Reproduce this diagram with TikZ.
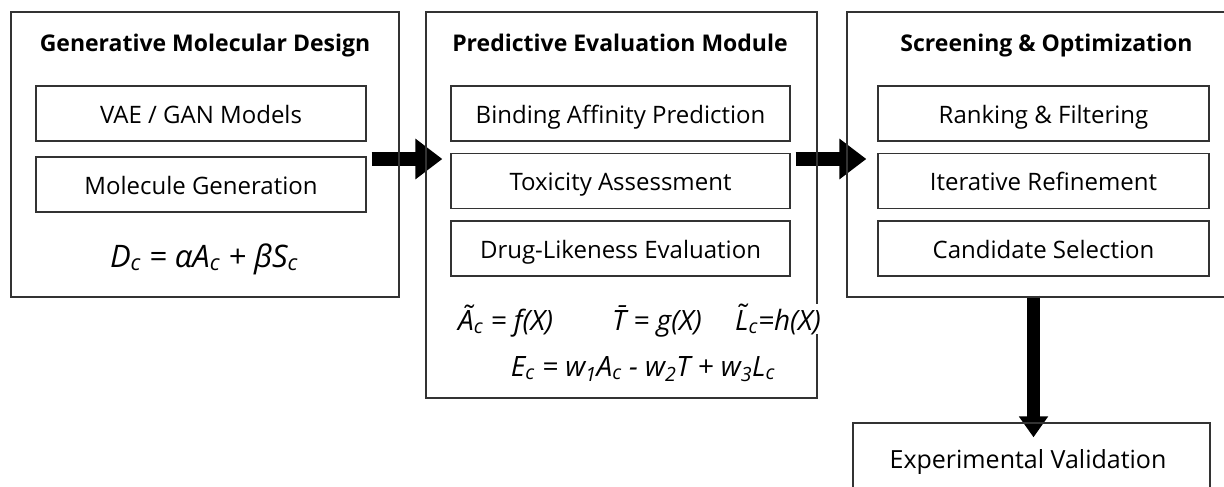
\documentclass[tikz,border=0pt]{standalone}
\usepackage{fontspec}
\setmainfont{Open Sans}
\usetikzlibrary{arrows.meta,calc,backgrounds}
\begin{document}
\begin{tikzpicture}[x=1pt,y=1pt,
  frame/.style={draw=black!80, line width=1.3pt, inner sep=0pt},
  item/.style={draw=black!80, line width=1.2pt, inner sep=0pt,
    font=\fontsize{24}{28}\selectfont, text=black, text height=19pt, text depth=0pt},
  title/.style={font=\fontsize{23}{27}\selectfont\bfseries, anchor=base, inner sep=0pt},
  eq/.style={font=\fontsize{28}{32}\selectfont\itshape, inner sep=0pt, anchor=base},
  bigarrow/.style={line width=14pt, -{Triangle[length=27pt,width=39pt]}},
  downarrow/.style={line width=13pt, -{Triangle[length=21pt,width=28pt]}}]
\useasboundingbox (0,0) rectangle (1224,-487);
\clip (0,0) rectangle (1224,-487);

% Stage 1: generative design
\node[frame, minimum width=388, minimum height=285] (gen) at (205,-154.5) {};
\node[title] (gentitle) at (205,-52) {Generative Molecular Design};
\node[item, minimum width=330, minimum height=55] (vae) at (201,-113.5) {VAE / GAN Models};
\node[item, minimum width=330, minimum height=55] (molgen) at (201,-184.5) {Molecule Generation};
\node[eq, font=\fontsize{31}{34}\selectfont\itshape] (deq) at (204,-267) {D\textsubscript{c} = αA\textsubscript{c} + βS\textsubscript{c}};

% Stage 2: predictive evaluation
\node[frame, minimum width=391, minimum height=386] (pred) at (621.5,-205) {};
\node[title] (predtitle) at (620,-52) {Predictive Evaluation Module};
\node[item, minimum width=339, minimum height=55] (bind) at (620.5,-113.5) {Binding Affinity Prediction};
\node[item, minimum width=339, minimum height=55] (tox) at (620.5,-181) {Toxicity Assessment};
\node[item, minimum width=339, minimum height=55] (drug) at (620.5,-248.5) {Drug-Likeness Evaluation};
\node[eq, anchor=base west] (aeq) at (458,-330) {\~{A}\textsubscript{c} = f(X)};
\node[eq, anchor=base west] (teq) at (612,-330) {\={T} = g(X)};
\node[eq, anchor=base west, fill=white] (leq) at (735,-330) {\~{L}\textsubscript{c}=h(X)};
\node[eq] (eeq) at (643,-376) {E\textsubscript{c} = w\textsubscript{1}A\textsubscript{c} - w\textsubscript{2}T + w\textsubscript{3}L\textsubscript{c}};

% Stage 3: screening
\node[frame, minimum width=385, minimum height=285] (scr) at (1039.5,-154.5) {};
\node[title] (scrtitle) at (1046.5,-52) {Screening \& Optimization};
\node[item, minimum width=331, minimum height=55] (rank) at (1043.5,-113.5) {Ranking \& Filtering};
\node[item, minimum width=331, minimum height=55] (iter) at (1043.5,-181) {Iterative Refinement};
\node[item, minimum width=331, minimum height=55] (cand) at (1043.5,-248.5) {Candidate Selection};

% Stage 4: validation
\node[frame, minimum width=357, minimum height=87] (val) at (1031.5,-466.5) {};
\node[font=\fontsize{25}{29}\selectfont, anchor=base, inner sep=0pt] (valtext) at (1028,-468) {Experimental Validation};

% Flow arrows, behind the frames
\begin{scope}[on background layer]
\draw[bigarrow] ($(gen.east)+(-28,-4.5)$) -- ($(pred.west)+(17,46)$);
\draw[bigarrow] ($(pred.east)+(-22,46)$) -- ($(scr.west)+(20,-4.5)$);
\draw[downarrow] ($(scr.south)+(-6,2)$) -- ($(val.north)+(2,-15)$);
\end{scope}
\end{tikzpicture}
\end{document}
